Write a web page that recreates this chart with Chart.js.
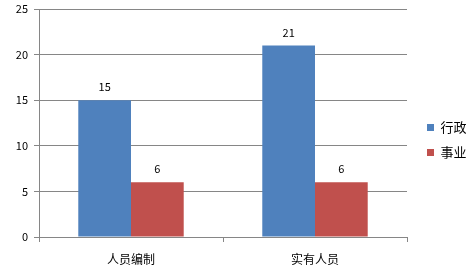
<!DOCTYPE html>
<html><head><meta charset="utf-8">
<script src="https://cdn.jsdelivr.net/npm/chart.js@4/dist/chart.umd.min.js"></script>
<style>html,body{margin:0;padding:0;background:#fff}#wrap{width:473px;height:273px}</style>
</head><body><div id="wrap"><canvas id="c" width="473" height="273"></canvas></div>
<script>
const categories = ['人员编制', '实有人员'];
const seriesNames = ['行政', '事业'];
const xingzheng = [15, 21];
const shiye = [6, 6];
const yTicks = [0, 5, 10, 15, 20, 25];

const FONT = '"Noto Sans CJK SC", "Noto Sans", sans-serif';
const valueLabels = {
  id: 'valueLabels',
  afterDatasetsDraw(chart) {
    const ctx = chart.ctx;
    ctx.save();
    ctx.font = '11px ' + FONT;
    ctx.fillStyle = '#000';
    ctx.textAlign = 'center';
    ctx.textBaseline = 'middle';
    chart.data.datasets.forEach((ds, i) => {
      chart.getDatasetMeta(i).data.forEach((bar, j) => {
        ctx.fillText(String(ds.data[j]), bar.x, bar.y - 13);
      });
    });
    ctx.restore();
  }
};

const chart = new Chart(document.getElementById('c'), {
  type: 'bar',
  data: {
    labels: categories,
    datasets: [
      { label: seriesNames[0], data: xingzheng, backgroundColor: '#4F81BD' },
      { label: seriesNames[1], data: shiye, backgroundColor: '#C0504D' }
    ]
  },
  options: {
    responsive: false,
    animation: false,
    devicePixelRatio: 1,
    categoryPercentage: 0.573,
    barPercentage: 1,
    layout: { padding: { left: 0, top: 9, right: 0, bottom: 0 } },
    plugins: {
      tooltip: { enabled: false },
      legend: {
        position: 'right',
        labels: {
          boxWidth: 7, boxHeight: 7, padding: 12,
          color: '#000',
          font: { family: FONT, size: 13 }
        }
      }
    },
    scales: {
      x: {
        grid: { display: true, drawOnChartArea: false, color: '#868686', tickLength: 5, offset: true },
        border: { color: '#868686' },
        ticks: { color: '#000', font: { family: FONT, size: 12 }, padding: 10 },
        afterFit(s) { s.height = 36; }
      },
      y: {
        min: 0, max: 25,
        afterBuildTicks(s) { s.ticks = yTicks.map(v => ({ value: v })); },
        grid: { color: '#868686', tickLength: 5 },
        border: { color: '#868686' },
        ticks: { color: '#000', font: { family: FONT, size: 11, lineHeight: 1 }, padding: 6 },
        afterFit(s) { s.width = 39; s.paddingTop = 0; s.paddingBottom = 0; }
      }
    }
  },
  plugins: [valueLabels]
});
const L = chart.legend;
const origFit = L.fit.bind(L);
L.fit = function () { origFit(); this.width = 66; this.right = this.left + 66; };
const origDraw = L.draw.bind(L);
L.draw = function () { const c = this.ctx; c.save(); c.translate(8, -1); origDraw(); c.restore(); };
chart.update();
</script></body></html>
